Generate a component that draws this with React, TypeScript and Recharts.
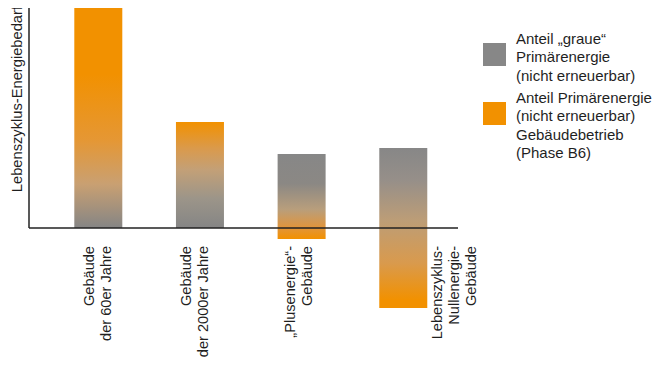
import React from 'react';
import { BarChart, Bar, Cell, XAxis, YAxis, ReferenceLine } from 'recharts';

// category labels (one entry per bar, split into lines as in the original)
const categories: string[][] = [
  ['Gebäude', 'der 60er Jahre'],
  ['Gebäude', 'der 2000er Jahre'],
  ['„Plusenergie“-', 'Gebäude'],
  ['Lebenszyklus-', 'Nullenergie-', 'Gebäude'],
];
const positions = [1, 2, 3, 4];
// bar extents (relative units)
const lowValues = [0, 0, -11, -80];
const highValues = [220, 106, 74, 80];

const legendItems = [
  { color: '#878787', lines: ['Anteil „graue“', 'Primärenergie', '(nicht erneuerbar)'] },
  { color: '#F29100', lines: ['Anteil Primärenergie', '(nicht erneuerbar)', 'Gebäudebetrieb', '(Phase B6)'] },
];

const yLabel = 'Lebenszyklus-Energiebedarf';

const data = positions.map((x, i) => ({ x, name: categories[i].join(' '), range: [lowValues[i], highValues[i]] }));

const X_MIN = 0.32;
const X_MAX = 4.54;
const FONT = '"Liberation Sans", Arial, sans-serif';
const TEXT = '#1f1f1f';

// gradient stops per bar (top -> bottom)
const gradients: [number, string][][] = [
  [[0, '#F29100'], [0.3, '#F29100'], [0.6, '#E59734'], [0.8, '#C9A072'], [1, '#858585']],
  [[0, '#F29100'], [0.25, '#DA9A4C'], [0.45, '#C3A077'], [0.72, '#9C9589'], [1, '#858585']],
  [[0, '#878787'], [0.35, '#8B8884'], [0.65, '#B89E7C'], [0.87, '#E2953A'], [1, '#F29100']],
  [[0, '#878787'], [0.2, '#968F89'], [0.45, '#BC9D77'], [0.72, '#D99A4D'], [0.95, '#F29100'], [1, '#F29100']],
];

const LABEL_SHIFT = [-1, -5, -3, 51];

const CategoryTick = (props: any) => {
  const { x, payload } = props;
  const idx = positions.indexOf(payload.value);
  if (idx < 0) return null;
  const lines = categories[idx];
  return (
    <g transform={`translate(${x + LABEL_SHIFT[idx]},246)`}>
      <text transform="rotate(-90)" textAnchor="end" fontSize={14.6} fontFamily={FONT} fill={TEXT}>
        {lines.map((l, i) => (
          <tspan key={i} x={0} y={(i - (lines.length - 1) / 2) * 17 + 5}>{l}</tspan>
        ))}
      </text>
    </g>
  );
};

const YLabel = () => (
  <g transform="translate(22,6)">
    <text transform="rotate(-90)" textAnchor="end" fontSize={14.7} fontFamily={FONT} fill={TEXT}>
      {yLabel}
    </text>
  </g>
);

const LegendBox = () => (
  <div style={{ position: 'absolute', left: 483, top: 29.5, fontFamily: FONT, fontSize: 15, lineHeight: '18.5px', color: TEXT }}>
    {legendItems.map((item, i) => (
      <div key={i} style={{ display: 'flex', alignItems: 'flex-start', marginBottom: 3.5 }}>
        <div style={{ width: 23, height: 23, marginTop: 13.5, background: item.color, flexShrink: 0 }} />
        <div style={{ marginLeft: 10, whiteSpace: 'nowrap' }}>
          {item.lines.map((l, j) => <div key={j}>{l}</div>)}
        </div>
      </div>
    ))}
  </div>
);

export default function App() {
  return (
    <div style={{ margin: -8, width: 660, height: 365, background: '#fff', position: 'relative' }}>
      <BarChart width={660} height={365} data={data} margin={{ top: 8, right: 202, bottom: 0, left: 0 }}>
        <defs>
          {gradients.map((stops, i) => (
            <linearGradient key={i} id={`barGrad${i}`} x1="0" y1="0" x2="0" y2="1">
              {stops.map(([o, c], j) => <stop key={j} offset={o} stopColor={c} />)}
            </linearGradient>
          ))}
        </defs>
        <XAxis
          type="number"
          dataKey="x"
          domain={[X_MIN, X_MAX]}
          allowDataOverflow
          ticks={positions}
          axisLine={false}
          tickLine={false}
          height={57}
          interval={0}
          tick={<CategoryTick />}
        />
        <YAxis
          domain={[-80, 220]}
          allowDataOverflow
          axisLine={false}
          tickLine={false}
          tick={false}
          width={29}
          label={<YLabel />}
        />
        <Bar dataKey="range" barSize={48} isAnimationActive={false}>
          {data.map((d, i) => <Cell key={d.name} fill={`url(#barGrad${i})`} />)}
        </Bar>
        <ReferenceLine y={0} stroke="#222" strokeWidth={1.5} />
        <ReferenceLine segment={[{ x: X_MIN, y: 0 }, { x: X_MIN, y: 220 }]} stroke="#222" strokeWidth={1.5} />
      </BarChart>
      <LegendBox />
    </div>
  );
}
